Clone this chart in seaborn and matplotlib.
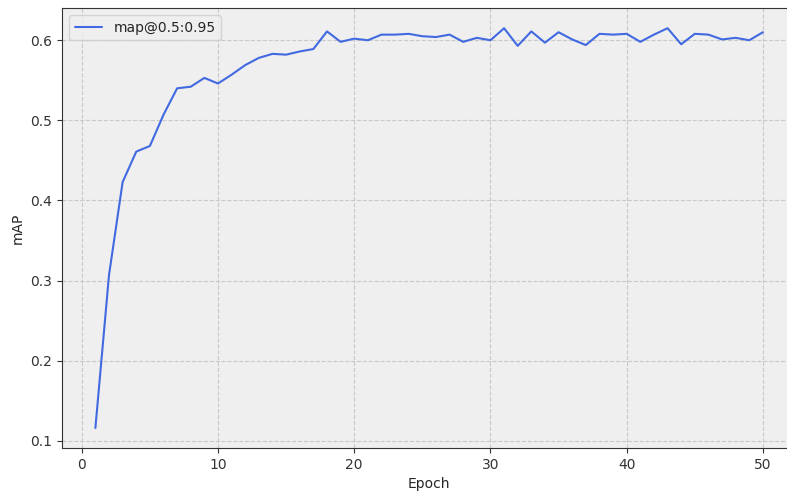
import seaborn as sns
import matplotlib.pyplot as plt
import pandas as pd

epochs = list(range(1, 51))
map_values = [0.116, 0.307, 0.423, 0.461, 0.468, 0.507, 0.540, 0.542, 0.553, 0.546,
              0.557, 0.569, 0.578, 0.583, 0.582, 0.586, 0.589, 0.611, 0.598, 0.602,
              0.600, 0.607, 0.607, 0.608, 0.605, 0.604, 0.607, 0.598, 0.603, 0.600,
              0.615, 0.593, 0.611, 0.597, 0.610, 0.601, 0.594, 0.608, 0.607, 0.608,
              0.598, 0.607, 0.615, 0.595, 0.608, 0.607, 0.601, 0.603, 0.600, 0.610]

df = pd.DataFrame({'Epoch': epochs, 'mAP': map_values})

sns.set_style('ticks', rc={'axes.facecolor': '#efefef', 'axes.edgecolor': '#333333'})

fig = plt.figure(figsize=(7.87, 4.93), dpi=100)
ax = fig.add_axes([0.0788, 0.0913, 0.933, 0.892])
sns.lineplot(x='Epoch', y='mAP', data=df, color='#4169e1', linewidth=1.5,
             label='map@0.5:0.95', ax=ax)
ax.grid(True, linestyle='--', color='#c8c8c8', linewidth=0.8)
ax.set_xlabel('Epoch', fontsize=10)
ax.set_ylabel('mAP', fontsize=10)
ax.tick_params(labelsize=10, colors='#333333')
ax.legend(loc='upper left', fontsize=10)
plt.savefig('out.png', dpi=100)
plt.close()
